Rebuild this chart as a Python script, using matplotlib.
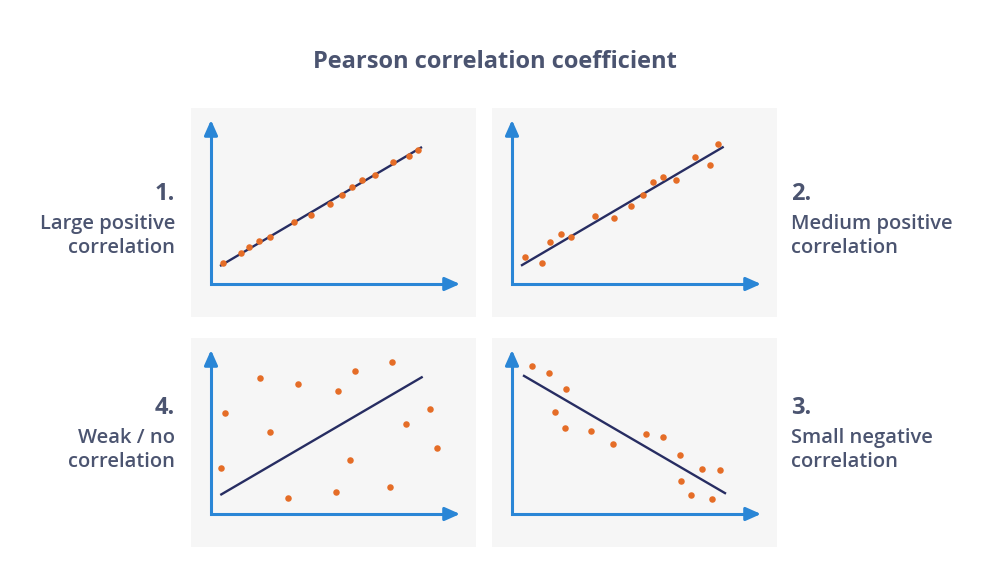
import numpy as np
import matplotlib
matplotlib.use("Agg")
from matplotlib import pyplot as plt

plt.rcParams['font.family'] = ['Open Sans', 'DejaVu Sans']

# ---------------- data (local units, origin at the axis corner) ----------------
# 1. large positive
p1_x = [11.7, 30, 38, 48.3, 58.7, 83, 100.3, 119, 131, 141.3, 150.7, 164, 182.3, 198.3, 206.7]
p1_y = [21.3, 31, 37.3, 43, 47, 61.7, 69.3, 80, 89.3, 97.3, 103.7, 109.3, 122.3, 128.3, 134.3]
p1_line = ([9, 211], [18, 137])

# 2. medium positive
p2_x = [12.7, 30, 38.3, 48.7, 59.3, 83.3, 101.7, 119, 131, 141.3, 150.7, 164.3, 182.7, 198, 206.3]
p2_y = [27.3, 21, 41.7, 50, 47, 68.3, 66.3, 78, 89.3, 102, 107, 104, 126.7, 119.3, 140]
p2_line = ([9, 211.7], [18.3, 137.3])

# 4. weak / no correlation
p4_x = [9.7, 14, 49.3, 59.3, 77, 86.7, 125.3, 127.3, 139.3, 143.7, 178.7, 180.7, 194.7, 219, 226.3]
p4_y = [46.3, 101.3, 135.7, 82, 16, 129.7, 22.3, 122.7, 53.7, 142.7, 27.3, 151.7, 90.3, 105.3, 66.3]
p4_line = ([9.3, 211.7], [19, 137.3])

# 3. small negative
p3_x = [20, 37.3, 54, 42.7, 52.7, 79.3, 100.7, 134, 151, 167.7, 169, 179.3, 190, 200.3, 207.7]
p3_y = [147.7, 141.3, 125.3, 102, 86.3, 83, 70, 79.7, 77, 58.7, 33.3, 18.7, 44.7, 15.3, 44]
p3_line = ([11, 214], [138.7, 20.3])

numbers = ["1.", "2.", "4.", "3."]
labels = [["Large positive", "correlation"],
          ["Medium positive", "correlation"],
          ["Weak / no", "correlation"],
          ["Small negative", "correlation"]]

title = "Pearson correlation coefficient"

# ---------------- style ----------------
W, H = 992, 573
text_col = "#4b5470"
panel_bg = "#f6f6f6"
axis_col = "#2a86d6"
dot_col = "#e56d27"
line_col = "#272d62"

fig = plt.figure(figsize=(W / 100, H / 100), dpi=100)
fig.patch.set_facecolor("white")

# panel rectangles in pixels: left, top
panels = [(191, 108), (492, 108), (191, 338), (492, 338)]
pw, ph = 285, 209
series = [(p1_x, p1_y, p1_line), (p2_x, p2_y, p2_line),
          (p4_x, p4_y, p4_line), (p3_x, p3_y, p3_line)]

for (px, py), (xs, ys, ln) in zip(panels, series):
    ax = fig.add_axes([px / W, 1 - (py + ph) / H, pw / W, ph / H])
    ax.set_facecolor(panel_bg)
    ax.set_xlim(-20, pw - 20)
    ax.set_ylim(-33, ph - 33)
    for s in ax.spines.values():
        s.set_visible(False)
    ax.set_xticks([])
    ax.set_yticks([])
    # axes: L shape + arrow heads
    ax.plot([0, 0, 240], [155, 0, 0], color=axis_col, lw=2.2,
            solid_joinstyle="miter", solid_capstyle="butt", zorder=2)
    ax.annotate("", xy=(249, 0), xytext=(236, 0),
                arrowprops=dict(arrowstyle="-|>,head_length=0.9,head_width=0.4",
                                color=axis_col, lw=2.2, shrinkA=0, shrinkB=0))
    ax.annotate("", xy=(0, 164), xytext=(0, 151),
                arrowprops=dict(arrowstyle="-|>,head_length=0.9,head_width=0.4",
                                color=axis_col, lw=2.2, shrinkA=0, shrinkB=0))
    ax.plot(ln[0], ln[1], color=line_col, lw=1.7, solid_capstyle="butt", zorder=3)
    ax.scatter(xs, ys, s=22, color=dot_col, linewidths=0, zorder=4)

# ---------------- text ----------------
fig.text(495 / W, 1 - 62 / H, title, ha="center", va="center",
         fontsize=17, fontweight="bold", color=text_col)

text_pos = [(175, 194, "right"), (791, 194, "left"), (175, 408, "right"), (791, 408, "left")]
for (tx, ty, ha), num, lab in zip(text_pos, numbers, labels):
    fig.text(tx / W, 1 - ty / H, num, ha=ha, va="center",
             fontsize=17, fontweight="bold", color=text_col)
    fig.text(tx / W, 1 - (ty + 30) / H, lab[0], ha=ha, va="center",
             fontsize=14.5, fontweight="semibold", color=text_col)
    fig.text(tx / W, 1 - (ty + 54) / H, lab[1], ha=ha, va="center",
             fontsize=14.5, fontweight="semibold", color=text_col)

fig.savefig("out.png", dpi=100, facecolor="white")
